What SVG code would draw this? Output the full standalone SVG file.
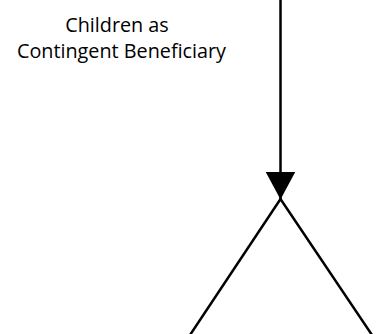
<svg xmlns="http://www.w3.org/2000/svg" width="377" height="334" viewBox="0 0 377 334">
<style>
.lbl{font-family:"Open Sans","Liberation Sans",sans-serif;font-size:19.8px;fill:#000;text-anchor:middle}
.ln{stroke:#000;stroke-width:2.5;fill:none}
</style>
<defs>
<marker id="ah" markerWidth="28" markerHeight="30" refX="27.5" refY="15" orient="auto" markerUnits="userSpaceOnUse">
<path d="M0,0 L28,15 L0,30 Z" fill="#000"/>
</marker>
</defs>
<rect width="377" height="334" fill="#fff"/>
<g id="label">
<text class="lbl" x="117" y="32">Children as</text>
<text class="lbl" x="121.5" y="58">Contingent Beneficiary</text>
</g>
<g id="connectors">
<path class="ln" d="M280.5,0 L280.5,199" marker-end="url(#ah)"/>
<path class="ln" d="M190,335 L280.5,199 L372,335"/>
</g>
</svg>
